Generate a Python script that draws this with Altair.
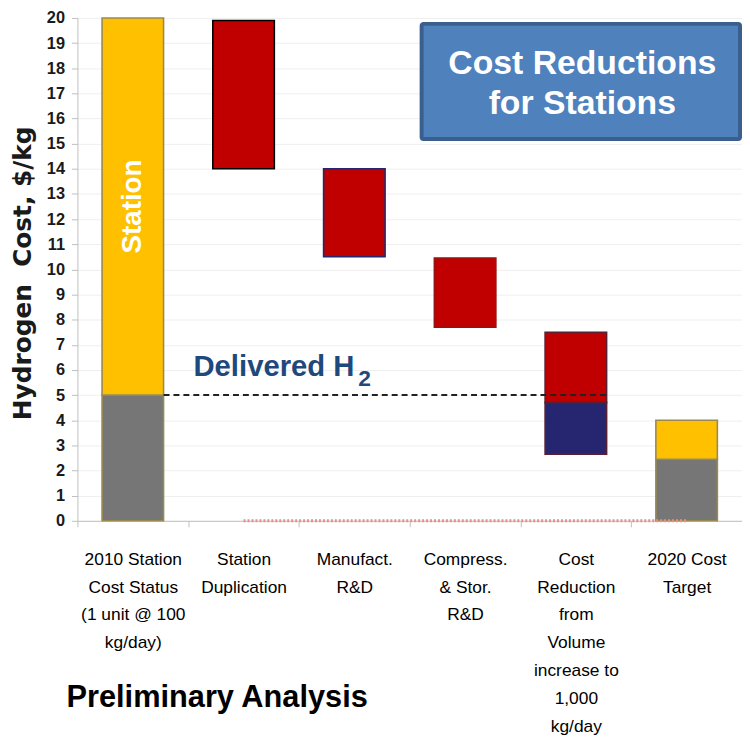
import altair as alt
import pandas as pd

categories = [
    "2010 Station|Cost Status|(1 unit @ 100|kg/day)",
    "Station|Duplication",
    "Manufact.|R&D",
    "Compress.|& Stor.|R&D",
    "Cost|Reduction|from|Volume|increase to|1,000|kg/day",
    "2020 Cost|Target",
]

seg_index = [0, 0, 1, 2, 3, 4, 4, 5, 5]
seg_bottom = [0, 5, 14, 10.5, 7.7, 4.7, 2.65, 0, 2.45]
seg_top = [5, 20, 19.9, 14, 10.45, 7.5, 4.7, 2.45, 4]
seg_kind = ["Delivered", "Station", "Reduction", "Reduction", "Reduction",
            "Reduction", "Volume", "Delivered", "Station"]

y_ticks = list(range(0, 21))
delivered_level = 5
dash_ends = [0, 4]
baseline_ends = [1, 5]

kinds = ["Delivered", "Station", "Reduction", "Volume"]
kind_colors = ["#767676", "#FFC000", "#C00000", "#262670"]
cat_strokes = ["#9A8A50", "#000000", "#262670", "#9A1010", "#5A2030", "#9A8A50"]

bars_df = pd.DataFrame({
    "category": [categories[i] for i in seg_index],
    "bottom": seg_bottom,
    "top": seg_top,
    "kind": seg_kind,
})

FONT = "Liberation Sans, Arial, sans-serif"

x_axis = alt.Axis(
    title=None, labelAngle=0, labelExpr="split(datum.label, '|')",
    labelFont=FONT, labelFontSize=17.5, labelColor="#000000",
    labelLineHeight=28, labelPadding=24, labelBaseline="top",
    tickBand="extent", tickSize=6, tickColor="#BFBFBF",
    domainColor="#BFBFBF", grid=False, labelLimit=200,
)
x_scale = alt.Scale(domain=categories, paddingInner=0, paddingOuter=0)

y_axis = alt.Axis(
    values=y_ticks, title="Hydrogen\u00a0\u00a0Cost, $/kg",
    titleFont="DejaVu Sans", titleFontSize=25, titleFontWeight="bold",
    titleAngle=270, titleX=-55, titleY=257, titleAlign="center",
    titleBaseline="middle", titleColor="#1a1a1a",
    labelFont=FONT, labelFontSize=16.5, labelFontWeight="bold",
    labelColor="#1a1a1a", labelPadding=7, tickSize=6, tickColor="#BFBFBF",
    labelOverlap=False,
    domainColor="#BFBFBF", gridColor="#EFEFEF", grid=True,
)
y_scale = alt.Scale(domain=[0, 20], nice=False)


def X(field):
    return alt.X(field, sort=categories, scale=x_scale, axis=x_axis)


def Y(field):
    return alt.Y(field, scale=y_scale, axis=y_axis)


bars = alt.Chart(bars_df).mark_bar(width=62, strokeWidth=1.6).encode(
    x=X("category:N"),
    y=Y("bottom:Q"),
    y2="top:Q",
    color=alt.Color("kind:N", scale=alt.Scale(domain=kinds, range=kind_colors), legend=None),
    stroke=alt.Stroke("category:N", scale=alt.Scale(domain=categories, range=cat_strokes), legend=None),
)

dash_df = pd.DataFrame({"category": [categories[i] for i in dash_ends],
                        "bottom": [delivered_level] * 2})
dash = alt.Chart(dash_df).mark_line(xOffset=31, strokeDash=[6, 4], color="#222222",
                                    strokeWidth=2).encode(
    x=X("category:N"), y=Y("bottom:Q"))

base_df = pd.DataFrame({"category": [categories[i] for i in baseline_ends], "bottom": [0, 0]})
pink = alt.Chart(base_df).mark_line(strokeDash=[2, 2], color="#E58F8F",
                                    strokeWidth=3).encode(
    x=X("category:N"), y=Y("bottom:Q"))

station_df = pd.DataFrame({"category": [categories[0]], "bottom": [12.5], "t": ["Station"]})
station_txt = alt.Chart(station_df).mark_text(
    angle=270, color="white", font=FONT, fontWeight="bold",
    fontSize=28, align="center", baseline="middle").encode(
    x=X("category:N"), y=Y("bottom:Q"), text="t:N")

deliv = alt.Chart(pd.DataFrame({"t": ["Delivered H"]})).mark_text(
    align="left", baseline="alphabetic", font=FONT, fontWeight="bold",
    fontSize=29.5, color="#1F497D").encode(
    x=alt.value(117), y=alt.value(361), text="t:N")
deliv_sub = alt.Chart(pd.DataFrame({"t": ["2"]})).mark_text(
    align="left", baseline="alphabetic", font=FONT, fontWeight="bold",
    fontSize=23, color="#1F497D").encode(
    x=alt.value(283), y=alt.value(371), text="t:N")

box = alt.Chart(pd.DataFrame({"a": [0]})).mark_rect(
    fill="#4F81BD", stroke="#3A5F8F", strokeWidth=4, cornerRadius=2).encode(
    x=alt.value(347), x2=alt.value(668), y=alt.value(6), y2=alt.value(122))
box_txt = alt.Chart(pd.DataFrame({"t": ["Cost Reductions\nfor Stations"]})).mark_text(
    lineBreak="\n", lineHeight=40, align="center", baseline="alphabetic",
    font=FONT, fontWeight="bold", fontSize=34, color="white").encode(
    x=alt.value(509), y=alt.value(57), text="t:N")

prelim = alt.Chart(pd.DataFrame({"t": ["Preliminary Analysis"]})).mark_text(
    align="left", baseline="alphabetic", font=FONT, fontWeight="bold",
    fontSize=31, color="black").encode(
    x=alt.value(-11), y=alt.value(695), text="t:N")

chart = alt.layer(bars, dash, pink, station_txt, deliv, deliv_sub, box, box_txt, prelim).properties(
    width=670, height=507,
    padding={"left": 70, "top": 7, "right": 0, "bottom": 225},
    autosize=alt.AutoSizeParams(type="none"),
).configure_view(stroke=None)

chart.save("out.html", embed_options={"renderer": "svg", "actions": False})
